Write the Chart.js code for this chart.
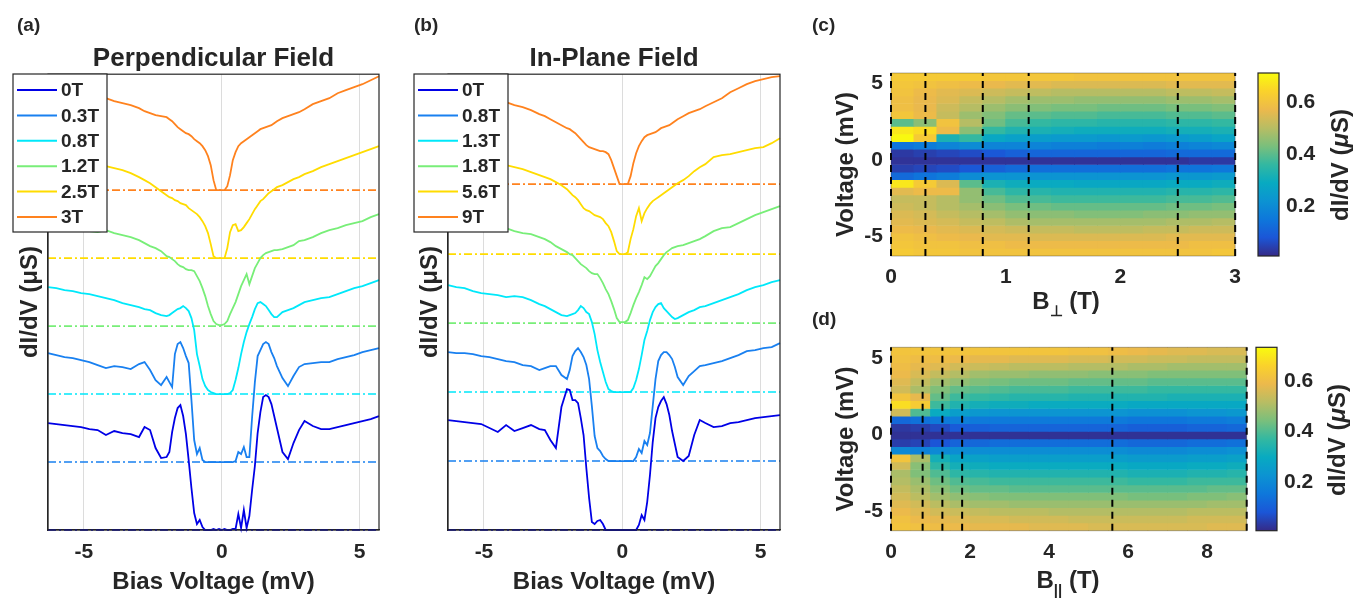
<!DOCTYPE html>
<html>
<head>
<meta charset="utf-8">
<title>dI/dV spectra vs magnetic field</title>
<script src="https://cdn.jsdelivr.net/npm/chart.js@4.4.1/dist/chart.umd.min.js"></script>
<style>
  body { margin: 0; background: #fff; }
  #fig { position: relative; width: 1371px; height: 600px; overflow: hidden;
         font-family: "Liberation Sans", Arial, sans-serif; color: #262626; }
  #fig canvas { position: absolute; }
  .txt { position: absolute; font-weight: bold; white-space: nowrap; line-height: 1; }
  .panel { font-size: 19px; }
  .axt { font-size: 24px; transform: translate(-50%, -50%); }
  .rot { font-size: 24px; transform: translate(-50%, -50%) rotate(-90deg); }
  .axt sub { font-size: 15px; vertical-align: -7px; }
</style>
</head>
<body>
<div id="fig">
  <canvas id="perpChart" width="400" height="600" style="left:0;top:0"></canvas>
  <canvas id="parChart" width="400" height="600" style="left:400px;top:0"></canvas>
  <canvas id="perpMap" width="430" height="300" style="left:820px;top:0"></canvas>
  <canvas id="perpBar" width="121" height="300" style="left:1250px;top:0"></canvas>
  <canvas id="parMap" width="430" height="300" style="left:820px;top:300px"></canvas>
  <canvas id="parBar" width="121" height="300" style="left:1250px;top:300px"></canvas>

  <div class="txt panel" style="left:17px;top:15px">(a)</div>
  <div class="txt panel" style="left:414px;top:15px">(b)</div>
  <div class="txt panel" style="left:812px;top:15px">(c)</div>
  <div class="txt panel" style="left:812px;top:309px">(d)</div>
  <div class="txt axt" style="left:1066px;top:303px">B<sub>&#8869;</sub> (T)</div>
  <div class="txt axt" style="left:1068px;top:582px">B<sub>||</sub> (T)</div>
  <div class="txt rot" style="left:1340px;top:165px">dI/dV (<i>&mu;</i>S)</div>
  <div class="txt rot" style="left:1337px;top:440px">dI/dV (<i>&mu;</i>S)</div>
</div>

<script>
// ---------- values ----------

// bias voltage grid (mV) shared by all spectra
const biasV = [
  -6.3, -6.0, -5.7, -5.4, -5.1, -4.8, -4.5, -4.2, -3.9, -3.6, -3.3, -3.0,
  -2.8, -2.6, -2.4, -2.2, -2.0,
  -1.9, -1.8, -1.7, -1.6, -1.5, -1.4, -1.3, -1.2, -1.1, -1.0, -0.9, -0.8, -0.7, -0.6, -0.5, -0.4, -0.3, -0.2, -0.1,
  0, 0.1, 0.2, 0.3, 0.4, 0.5, 0.6, 0.7, 0.8, 0.9, 1.0, 1.1, 1.2, 1.3, 1.4, 1.5, 1.6, 1.7, 1.8, 1.9,
  2.0, 2.2, 2.4, 2.6, 2.8, 3.0,
  3.3, 3.6, 3.9, 4.2, 4.5, 4.8, 5.1, 5.4, 5.7
];

// field values (T) of the spectra, also the dashed markers in (c) and (d)
const perpFields = [0, 0.3, 0.8, 1.2, 2.5, 3];
const parFields = [0, 0.8, 1.3, 1.8, 5.6, 9];

// vertical offsets of the stacked spectra (arb. units)
const perpOffsets = [0, 68, 136, 204, 272, 340];
const parOffsets = [0, 69, 138, 207, 276, 346];

// (a) perpendicular field spectra, height above own baseline (arb. units)
const perp0 = [
  107, 106, 105, 104, 103, 101, 100, 95, 99, 97, 96, 93,
  103, 100, 82, 72, 73,
  78, 98, 112, 122, 125, 114, 96, 70, 42, 17, 6, 10, 3, 0, 0, 0, 1, 0, 1,
  0, 1, 0, 0, 1, 1, 16, 2, 20, 2, 14, 40, 64, 97, 118, 133, 135, 133, 126, 114,
  102, 78, 71, 87, 100, 109,
  104, 101, 101, 103, 105, 107, 109, 111, 114
];
const perp03 = [
  109, 107, 105, 104, 102, 100, 97, 94, 96, 95, 93, 98,
  100, 92, 82, 77, 85,
  80, 75, 108, 118, 120, 114, 106, 99, 62, 22, 8, 14, 2, 0, 0, 0, 0, 0, 0,
  0, 0, 0, 0, 0, 1, 10, 8, 15, 5, 5, 45, 80, 106, 112, 118, 120, 118, 110, 104,
  96, 84, 76, 86, 95, 98,
  99, 100, 100, 103, 105, 107, 110, 112, 114
];
const perp08 = [
  107, 106, 104, 103, 101, 100, 98, 96, 94, 91, 89, 87,
  85, 84, 81, 79, 78,
  79, 81, 83, 85, 86, 88, 86, 83, 76, 64, 40, 28, 15, 8, 4, 2, 1, 0, 0,
  0, 0, 0, 1, 4, 14, 26, 40, 52, 62, 70, 77, 85, 91, 92, 90, 88, 84, 80, 77,
  77, 82, 84, 86, 89, 92,
  94, 96, 97, 100, 103, 106, 108, 111, 114
];
const perp12 = [
  100, 99, 98, 97, 96, 95, 94, 96, 93, 91, 89, 86,
  83, 80, 78, 75, 70,
  69, 67, 65, 62, 60, 59, 57, 56, 56, 55, 50, 45, 38, 30, 20, 12, 5, 2, 1,
  1, 2, 5, 12, 18, 24, 32, 40, 46, 52, 42, 50, 58, 63, 68, 71, 73, 74, 75, 76,
  76, 77, 79, 81, 85, 86,
  89, 93, 96, 98, 101, 103, 105, 109, 112
];
const perp25 = [
  108, 106, 104, 102, 100, 97, 95, 92, 90, 88, 85, 81,
  78, 75, 71, 67, 63,
  61, 60, 58, 57, 55, 54, 53, 50, 48, 46, 44, 41, 37, 32, 25, 14, 2, 0, 0,
  0, 0, 10, 26, 33, 34, 27, 28, 31, 35, 39, 44, 49, 53, 57, 59, 62, 65, 67, 69,
  71, 73, 76, 79, 81, 84,
  87, 91, 94, 97, 100, 103, 106, 109, 112
];
const perp3 = [
  102, 100, 98, 97, 95, 94, 93, 92, 89, 87, 85, 82,
  79, 77, 75, 74, 73,
  71, 69, 66, 63, 61, 59, 57, 56, 54, 51, 49, 47, 44, 40, 34, 25, 10, 0, 0,
  0, 0, 4, 15, 30, 38, 44, 47, 49, 51, 53, 55, 57, 59, 61, 62, 63, 64, 65, 67,
  69, 72, 74, 76, 78, 81,
  86, 89, 92, 97, 100, 103, 106, 110, 114
];

// (b) in-plane field spectra
const par0 = [
  110, 109, 108, 107, 106, 102, 98, 105, 99, 102, 105, 101,
  100, 90, 82, 123, 141,
  140, 130, 130, 127, 112, 95, 62, 32, 8, 6, 9, 10, 6, 0, 0, 0, 0, 0, 0,
  0, 0, 0, 0, 0, 0, 5, 15, 10, 28, 55, 88, 112, 123, 129, 133, 126, 115, 99, 86,
  73, 69, 74, 95, 110, 107,
  103, 104, 107, 108, 110, 112, 113, 114, 115
];
const par08 = [
  109, 108, 108, 107, 105, 104, 102, 100, 99, 96, 95, 91,
  93, 95, 95, 86, 82,
  91, 105, 110, 113, 109, 104, 96, 82, 55, 25, 13, 10, 5, 2, 0, 0, 0, 0, 0,
  0, 0, 0, 0, 0, 4, 12, 8, 20, 16, 28, 55, 82, 100, 106, 109, 109, 106, 102, 94,
  84, 76, 85, 90, 95, 96,
  98, 100, 103, 106, 110, 111, 113, 114, 118
];
const par13 = [
  107, 105, 104, 101, 99, 98, 97, 95, 96, 95, 92, 88,
  86, 83, 80, 77, 76,
  77, 78, 79, 82, 86, 84, 80, 78, 70, 58, 42, 30, 20, 10, 3, 1, 0, 0, 0,
  0, 0, 0, 0, 4, 12, 23, 37, 52, 61, 72, 80, 85, 88, 89, 84, 81, 78, 75, 73,
  74, 77, 80, 82, 85, 86,
  89, 92, 95, 98, 102, 105, 107, 110, 112
];
const par18 = [
  101, 100, 99, 98, 97, 96, 95, 95, 92, 90, 89, 86,
  84, 81, 77, 74, 71,
  69, 68, 65, 62, 59, 57, 55, 52, 50, 49, 49, 45, 40, 34, 29, 22, 14, 5, 1,
  1, 1, 3, 10, 18, 25, 31, 38, 46, 44, 47, 52, 57, 60, 64, 68, 71, 73, 75, 76,
  77, 78, 80, 82, 84, 87,
  92, 95, 96, 100, 104, 108, 111, 114, 117
];
const par56 = [
  97, 96, 94, 93, 92, 91, 90, 89, 87, 85, 82, 79,
  77, 75, 72, 69, 65,
  62, 59, 57, 54, 50, 46, 44, 43, 41, 39, 38, 37, 35, 31, 28, 22, 13, 3, 0,
  0, 0, 2, 15, 25, 38, 46, 33, 41, 46, 50, 53, 55, 57, 59, 61, 63, 65, 67, 69,
  71, 74, 78, 83, 87, 90,
  97, 99, 100, 102, 104, 106, 107, 111, 116
];
const par9 = [
  92, 90, 89, 87, 86, 85, 84, 82, 79, 77, 74, 70,
  68, 65, 62, 59, 56,
  55, 53, 51, 48, 45, 42, 39, 37, 36, 35, 34, 33, 33, 32, 30, 24, 16, 8, 0,
  0, 0, 0, 8, 21, 31, 38, 43, 47, 49, 50, 51, 52, 54, 56, 57, 58, 59, 61, 63,
  65, 68, 71, 73, 75, 78,
  82, 86, 92, 96, 100, 103, 105, 107, 108
];

// tick values
const voltTicks = [-5, 0, 5];
const perpBTicks = [0, 1, 2, 3];
const parBTicks = [0, 2, 4, 6, 8];
const cbTicks = [0.2, 0.4, 0.6];

// colour maps: row centres (mV, top to bottom), column centres (T), dI/dV (uS)
const mapV = [5.45, 4.95, 4.45, 3.95, 3.45, 2.95, 2.45, 1.95, 1.45, 0.95, 0.45, -0.05,
              -0.55, -1.05, -1.55, -2.05, -2.55, -3.05, -3.55, -4.05, -4.55, -5.05, -5.55, -6.05];
const perpMapB = [0.1, 0.3, 0.5, 0.7, 0.9, 1.1, 1.3, 1.5, 1.7, 1.9, 2.1, 2.3, 2.5, 2.7, 2.9];
const parMapB = [0.25, 0.75, 1.25, 1.75, 2.25, 2.75, 3.25, 3.75, 4.25, 4.75, 5.25, 5.75, 6.25, 6.75, 7.25, 7.75, 8.25, 8.75];

const perpMapRows = [
  [0.62, 0.62, 0.62, 0.62, 0.61, 0.61, 0.61, 0.61, 0.60, 0.60, 0.60, 0.60, 0.60, 0.60, 0.60],
  [0.61, 0.60, 0.59, 0.58, 0.57, 0.56, 0.56, 0.55, 0.55, 0.55, 0.55, 0.55, 0.56, 0.56, 0.56],
  [0.60, 0.58, 0.56, 0.55, 0.53, 0.52, 0.51, 0.50, 0.50, 0.50, 0.50, 0.50, 0.51, 0.51, 0.52],
  [0.59, 0.57, 0.55, 0.52, 0.50, 0.48, 0.47, 0.47, 0.46, 0.46, 0.46, 0.46, 0.47, 0.47, 0.48],
  [0.59, 0.57, 0.53, 0.50, 0.47, 0.45, 0.44, 0.43, 0.43, 0.42, 0.42, 0.42, 0.43, 0.43, 0.44],
  [0.61, 0.58, 0.52, 0.47, 0.44, 0.41, 0.40, 0.39, 0.39, 0.38, 0.38, 0.38, 0.39, 0.39, 0.40],
  [0.40, 0.45, 0.60, 0.50, 0.42, 0.38, 0.36, 0.35, 0.35, 0.34, 0.34, 0.34, 0.35, 0.35, 0.36],
  [0.68, 0.66, 0.58, 0.45, 0.36, 0.33, 0.32, 0.31, 0.30, 0.30, 0.30, 0.30, 0.31, 0.31, 0.32],
  [0.71, 0.62, 0.32, 0.36, 0.28, 0.26, 0.25, 0.24, 0.24, 0.23, 0.24, 0.23, 0.24, 0.25, 0.27],
  [0.14, 0.16, 0.18, 0.20, 0.18, 0.18, 0.18, 0.17, 0.17, 0.16, 0.17, 0.16, 0.17, 0.18, 0.19],
  [0.03, 0.04, 0.05, 0.06, 0.08, 0.10, 0.11, 0.11, 0.11, 0.11, 0.11, 0.11, 0.12, 0.12, 0.12],
  [0.02, 0.02, 0.02, 0.02, 0.02, 0.02, 0.02, 0.02, 0.02, 0.02, 0.02, 0.02, 0.02, 0.03, 0.03],
  [0.04, 0.05, 0.06, 0.08, 0.10, 0.12, 0.13, 0.13, 0.13, 0.13, 0.13, 0.13, 0.14, 0.14, 0.15],
  [0.12, 0.14, 0.16, 0.20, 0.22, 0.22, 0.22, 0.22, 0.22, 0.22, 0.22, 0.22, 0.23, 0.23, 0.24],
  [0.68, 0.62, 0.55, 0.40, 0.32, 0.30, 0.29, 0.29, 0.28, 0.28, 0.28, 0.28, 0.29, 0.29, 0.30],
  [0.56, 0.58, 0.58, 0.46, 0.38, 0.35, 0.34, 0.33, 0.33, 0.33, 0.33, 0.33, 0.34, 0.34, 0.35],
  [0.52, 0.52, 0.50, 0.46, 0.42, 0.39, 0.38, 0.37, 0.37, 0.37, 0.37, 0.37, 0.38, 0.38, 0.39],
  [0.53, 0.52, 0.50, 0.48, 0.45, 0.43, 0.42, 0.41, 0.41, 0.41, 0.41, 0.41, 0.42, 0.42, 0.43],
  [0.55, 0.54, 0.52, 0.50, 0.48, 0.46, 0.45, 0.45, 0.44, 0.44, 0.44, 0.45, 0.45, 0.46, 0.46],
  [0.56, 0.55, 0.54, 0.52, 0.51, 0.49, 0.48, 0.48, 0.48, 0.48, 0.48, 0.48, 0.49, 0.49, 0.50],
  [0.58, 0.57, 0.56, 0.55, 0.54, 0.53, 0.52, 0.52, 0.51, 0.51, 0.51, 0.52, 0.52, 0.53, 0.53],
  [0.60, 0.59, 0.58, 0.57, 0.56, 0.56, 0.55, 0.55, 0.55, 0.55, 0.55, 0.55, 0.56, 0.56, 0.56],
  [0.61, 0.60, 0.60, 0.59, 0.59, 0.58, 0.58, 0.58, 0.58, 0.58, 0.58, 0.58, 0.58, 0.59, 0.59],
  [0.62, 0.61, 0.61, 0.60, 0.60, 0.60, 0.60, 0.60, 0.60, 0.60, 0.60, 0.60, 0.60, 0.60, 0.61]
];

const parMapRows = [
  [0.62, 0.62, 0.62, 0.62, 0.62, 0.62, 0.62, 0.62, 0.62, 0.61, 0.61, 0.60, 0.59, 0.58, 0.57, 0.57, 0.56, 0.56],
  [0.61, 0.60, 0.60, 0.59, 0.58, 0.58, 0.57, 0.57, 0.57, 0.56, 0.56, 0.55, 0.55, 0.54, 0.54, 0.53, 0.53, 0.53],
  [0.60, 0.58, 0.57, 0.55, 0.54, 0.53, 0.52, 0.52, 0.52, 0.51, 0.51, 0.51, 0.50, 0.50, 0.49, 0.49, 0.49, 0.49],
  [0.59, 0.56, 0.53, 0.51, 0.49, 0.48, 0.48, 0.47, 0.47, 0.47, 0.46, 0.46, 0.46, 0.45, 0.45, 0.45, 0.45, 0.45],
  [0.57, 0.53, 0.49, 0.47, 0.45, 0.44, 0.43, 0.43, 0.43, 0.42, 0.42, 0.42, 0.42, 0.41, 0.41, 0.41, 0.41, 0.41],
  [0.55, 0.50, 0.45, 0.42, 0.41, 0.40, 0.39, 0.39, 0.39, 0.38, 0.38, 0.38, 0.38, 0.37, 0.37, 0.37, 0.37, 0.37],
  [0.62, 0.58, 0.42, 0.38, 0.37, 0.36, 0.35, 0.35, 0.35, 0.34, 0.34, 0.34, 0.34, 0.34, 0.33, 0.33, 0.33, 0.33],
  [0.68, 0.64, 0.38, 0.34, 0.32, 0.31, 0.31, 0.30, 0.30, 0.30, 0.30, 0.30, 0.29, 0.29, 0.29, 0.29, 0.29, 0.29],
  [0.55, 0.40, 0.30, 0.26, 0.24, 0.23, 0.23, 0.23, 0.23, 0.23, 0.23, 0.23, 0.22, 0.22, 0.22, 0.23, 0.23, 0.24],
  [0.12, 0.14, 0.16, 0.17, 0.16, 0.16, 0.16, 0.16, 0.16, 0.16, 0.16, 0.16, 0.15, 0.15, 0.15, 0.16, 0.16, 0.17],
  [0.03, 0.04, 0.06, 0.09, 0.10, 0.11, 0.11, 0.11, 0.11, 0.11, 0.11, 0.11, 0.10, 0.10, 0.10, 0.11, 0.11, 0.12],
  [0.02, 0.02, 0.02, 0.02, 0.02, 0.02, 0.02, 0.02, 0.02, 0.02, 0.02, 0.02, 0.02, 0.02, 0.02, 0.02, 0.02, 0.02],
  [0.04, 0.05, 0.08, 0.11, 0.12, 0.13, 0.13, 0.13, 0.13, 0.13, 0.13, 0.13, 0.12, 0.12, 0.12, 0.13, 0.13, 0.14],
  [0.20, 0.18, 0.20, 0.21, 0.21, 0.21, 0.21, 0.21, 0.21, 0.21, 0.21, 0.21, 0.20, 0.20, 0.20, 0.21, 0.21, 0.22],
  [0.62, 0.50, 0.32, 0.28, 0.27, 0.26, 0.26, 0.26, 0.26, 0.26, 0.26, 0.26, 0.25, 0.25, 0.25, 0.26, 0.26, 0.27],
  [0.55, 0.46, 0.36, 0.32, 0.31, 0.30, 0.30, 0.30, 0.30, 0.30, 0.30, 0.30, 0.29, 0.29, 0.29, 0.30, 0.30, 0.31],
  [0.50, 0.45, 0.40, 0.36, 0.35, 0.34, 0.34, 0.34, 0.34, 0.34, 0.34, 0.34, 0.33, 0.33, 0.33, 0.34, 0.34, 0.35],
  [0.51, 0.48, 0.43, 0.40, 0.39, 0.38, 0.38, 0.38, 0.38, 0.38, 0.38, 0.38, 0.37, 0.37, 0.37, 0.38, 0.38, 0.38],
  [0.53, 0.50, 0.46, 0.43, 0.42, 0.42, 0.41, 0.41, 0.41, 0.41, 0.41, 0.41, 0.41, 0.41, 0.41, 0.41, 0.42, 0.42],
  [0.55, 0.52, 0.49, 0.47, 0.46, 0.45, 0.45, 0.45, 0.45, 0.45, 0.45, 0.45, 0.44, 0.44, 0.44, 0.45, 0.45, 0.46],
  [0.57, 0.55, 0.52, 0.50, 0.49, 0.49, 0.48, 0.48, 0.48, 0.48, 0.48, 0.48, 0.48, 0.48, 0.48, 0.48, 0.49, 0.49],
  [0.59, 0.57, 0.55, 0.54, 0.53, 0.52, 0.52, 0.52, 0.51, 0.51, 0.51, 0.51, 0.51, 0.51, 0.51, 0.52, 0.52, 0.52],
  [0.61, 0.59, 0.58, 0.57, 0.56, 0.56, 0.55, 0.55, 0.55, 0.54, 0.54, 0.54, 0.54, 0.54, 0.54, 0.55, 0.55, 0.55],
  [0.62, 0.61, 0.60, 0.59, 0.58, 0.58, 0.58, 0.57, 0.57, 0.57, 0.56, 0.56, 0.56, 0.56, 0.56, 0.56, 0.57, 0.57]
];

// colour bar limits (uS)
const perpCbRange = [0.005, 0.715];
const parCbRange = [0.007, 0.733];

// ---------- styling ----------
const FONT = '"Liberation Sans", Arial, sans-serif';
const INK = '#262626';
const traceColors = ['rgb(0,0,230)', 'rgb(25,128,240)', 'rgb(0,232,250)', 'rgb(120,238,120)', 'rgb(255,220,0)', 'rgb(255,130,30)'];
const PARULA = [[53, 42, 135], [27, 86, 215], [14, 119, 219], [12, 147, 210], [8, 170, 193], [51, 184, 161],
                [122, 191, 124], [184, 189, 99], [236, 185, 76], [250, 210, 43], [249, 251, 14]];
const voltMin = biasV[0];
const voltMax = biasV[biasV.length - 1];

Chart.defaults.font.family = FONT;
Chart.defaults.color = INK;

function parula(t) {
  t = Math.min(1, Math.max(0, t)) * (PARULA.length - 1);
  const i = Math.min(PARULA.length - 2, Math.floor(t));
  const f = t - i;
  const c = PARULA[i].map((v, k) => Math.round(v + (PARULA[i + 1][k] - v) * f));
  return 'rgb(' + c.join(',') + ')';
}

const bold = size => ({ family: FONT, size: size, weight: 'bold' });

// axes box around the plot area
const framePlugin = {
  id: 'frame',
  afterDraw(chart, args, opts) {
    const a = chart.chartArea, c = chart.ctx;
    c.save();
    c.strokeStyle = opts.color || INK;
    c.lineWidth = opts.width || 1.2;
    c.strokeRect(a.left, a.top, a.right - a.left, a.bottom - a.top);
    c.restore();
  }
};

// boxed legend placed over the top-left corner, like the original
const boxLegend = {
  id: 'boxLegend',
  afterDraw(chart, args, o) {
    const c = chart.ctx;
    c.save();
    c.fillStyle = '#fff';
    c.fillRect(o.x, o.y, o.w, o.h);
    c.strokeStyle = INK;
    c.lineWidth = 1.2;
    c.strokeRect(o.x, o.y, o.w, o.h);
    c.font = 'bold 19px ' + FONT;
    c.textBaseline = 'middle';
    chart.data.datasets.filter(d => d.inLegend).forEach((d, i) => {
      const y = o.y + o.first + i * o.step;
      c.strokeStyle = d.borderColor;
      c.lineWidth = 2;
      c.beginPath();
      c.moveTo(o.x + 4, y);
      c.lineTo(o.x + 44, y);
      c.stroke();
      c.fillStyle = INK;
      c.fillText(d.label, o.x + 48, y + 1);
    });
    c.restore();
  }
};

// ---------- stacked spectra, panels (a) and (b) ----------
function traceChart(canvasId, title, fields, traces, offsets, padRight, legendX) {
  const datasets = [];
  traces.forEach((t, i) => {
    datasets.push({
      label: fields[i] + 'T', inLegend: true,
      data: biasV.map((v, k) => ({ x: v, y: offsets[i] + t[k] })),
      borderColor: traceColors[i], borderWidth: 1.8, pointRadius: 0, clip: 3
    });
    datasets.push({
      data: [{ x: voltMin, y: offsets[i] }, { x: voltMax, y: offsets[i] }],
      borderColor: traceColors[i], borderWidth: 1.6, borderDash: [8, 3, 2, 3], pointRadius: 0, clip: 3
    });
  });

  new Chart(document.getElementById(canvasId), {
    type: 'line',
    data: { datasets },
    plugins: [framePlugin, boxLegend],
    options: {
      responsive: false, animation: false, events: [],
      layout: { padding: { left: 0, right: padRight, top: 0, bottom: 0 } },
      scales: {
        x: {
          type: 'linear', min: voltMin, max: voltMax,
          afterBuildTicks: s => { s.ticks = voltTicks.map(v => ({ value: v })); },
          afterFit: s => { s.height = 70; },
          grid: { color: '#dcdcdc', drawTicks: false },
          border: { color: INK, width: 1.2 },
          ticks: { padding: 10, color: INK, font: bold(21), callback: v => String(v) },
          title: { display: true, text: 'Bias Voltage (mV)', color: INK, font: bold(24), padding: { top: 0, bottom: 3.5 } }
        },
        y: {
          min: 0, max: 456,
          afterFit: s => { s.width = 48; },
          ticks: { display: false },
          grid: { display: false, drawTicks: false },
          border: { color: INK, width: 1.2 },
          title: { display: true, text: 'dI/dV (μS)', color: INK, font: bold(24), padding: { top: 15.5, bottom: 0 } }
        }
      },
      plugins: {
        legend: { display: false },
        tooltip: { enabled: false },
        title: { display: true, text: title, fullSize: false, color: INK, font: bold(26), padding: { top: 43, bottom: 0 } },
        frame: { color: INK, width: 1.2 },
        boxLegend: { x: legendX, y: 74, w: 94, h: 158, first: 16, step: 25.4 }
      }
    }
  });
}

// ---------- colour maps, panels (c) and (d) ----------
function mapChart(canvasId, fieldsB, rows, markB, bTicks, cbRange, box) {
  const half = (mapV[0] - mapV[1]) / 2;
  const seam = 0.02;
  const span = cbRange[1] - cbRange[0];
  const datasets = rows.map((row, r) => ({
    type: 'bar', order: 1,
    data: fieldsB.map(b => ({ x: b, y: [mapV[r] - half - seam, mapV[r] + half + seam] })),
    backgroundColor: row.map(v => parula((v - cbRange[0]) / span)),
    borderWidth: 0, barPercentage: 1.04, categoryPercentage: 1, grouped: false
  }));
  markB.forEach(b => datasets.push({
    type: 'line', order: 0,
    data: [{ x: b, y: voltMin }, { x: b, y: voltMax }],
    borderColor: '#000', borderWidth: 2, borderDash: [7, 5], pointRadius: 0, clip: 3
  }));

  new Chart(document.getElementById(canvasId), {
    type: 'bar',
    data: { datasets },
    plugins: [framePlugin],
    options: {
      responsive: false, animation: false, events: [],
      layout: { padding: { left: 0, right: box.right, top: box.top, bottom: 0 } },
      scales: {
        x: {
          type: 'linear', offset: false, min: markB[0], max: markB[markB.length - 1],
          afterBuildTicks: s => { s.ticks = bTicks.map(v => ({ value: v })); },
          afterFit: s => { s.height = box.xh; },
          grid: { display: false, drawTicks: false },
          border: { display: false },
          ticks: { padding: box.tickPad, color: INK, font: bold(21), callback: v => String(v) }
        },
        y: {
          min: voltMin, max: voltMax,
          afterBuildTicks: s => { s.ticks = voltTicks.map(v => ({ value: v })); },
          afterFit: s => { s.width = 71; },
          grid: { display: false, drawTicks: false },
          border: { display: false },
          ticks: { padding: 8, color: INK, font: bold(21), callback: v => String(v) },
          title: { display: true, text: 'Voltage (mV)', color: INK, font: bold(24), padding: { top: 12, bottom: 0 } }
        }
      },
      plugins: {
        legend: { display: false },
        tooltip: { enabled: false },
        frame: { color: 'rgba(38,38,38,0.35)', width: 1 }
      }
    }
  });
}

function colorBar(canvasId, cbRange, box) {
  new Chart(document.getElementById(canvasId), {
    type: 'bar',
    data: {
      labels: [''],
      datasets: [{
        data: [cbRange],
        backgroundColor: ctx => {
          const a = ctx.chart.chartArea;
          if (!a) return parula(0.5);
          const g = ctx.chart.ctx.createLinearGradient(0, a.bottom, 0, a.top);
          PARULA.forEach((c, i) => g.addColorStop(i / (PARULA.length - 1), 'rgb(' + c.join(',') + ')'));
          return g;
        },
        borderWidth: 0, barPercentage: 1, categoryPercentage: 1
      }]
    },
    plugins: [framePlugin],
    options: {
      responsive: false, animation: false, events: [],
      layout: { padding: { left: box.left, right: 0, top: box.top, bottom: box.bottom } },
      scales: {
        x: { display: false },
        y: {
          position: 'right', min: cbRange[0], max: cbRange[1],
          afterBuildTicks: s => { s.ticks = cbTicks.map(v => ({ value: v })); },
          afterFit: s => { s.width = box.axisW; },
          grid: { display: false, drawTicks: false },
          border: { display: false },
          ticks: { padding: 7, color: INK, font: bold(21), callback: v => v.toFixed(1) }
        }
      },
      plugins: { legend: { display: false }, tooltip: { enabled: false }, frame: { color: INK, width: 1.2 } }
    }
  });
}

// ---------- build ----------
traceChart('perpChart', 'Perpendicular Field', perpFields,
  [perp0, perp03, perp08, perp12, perp25, perp3], perpOffsets, 21, 13);
traceChart('parChart', 'In-Plane Field', parFields,
  [par0, par08, par13, par18, par56, par9], parOffsets, 20, 14);

mapChart('perpMap', perpMapB, perpMapRows, perpFields, perpBTicks, perpCbRange,
  { right: 9, top: 73, xh: 44, tickPad: 9 });
mapChart('parMap', parMapB, parMapRows, parFields, parBTicks, parCbRange,
  { right: 3.3, top: 47.3, xh: 69.3, tickPad: 8.5 });

colorBar('perpBar', perpCbRange, { left: 8, top: 73, bottom: 44, axisW: 92 });
colorBar('parBar', parCbRange, { left: 6, top: 47.3, bottom: 69.3, axisW: 94 });
</script>
</body>
</html>
